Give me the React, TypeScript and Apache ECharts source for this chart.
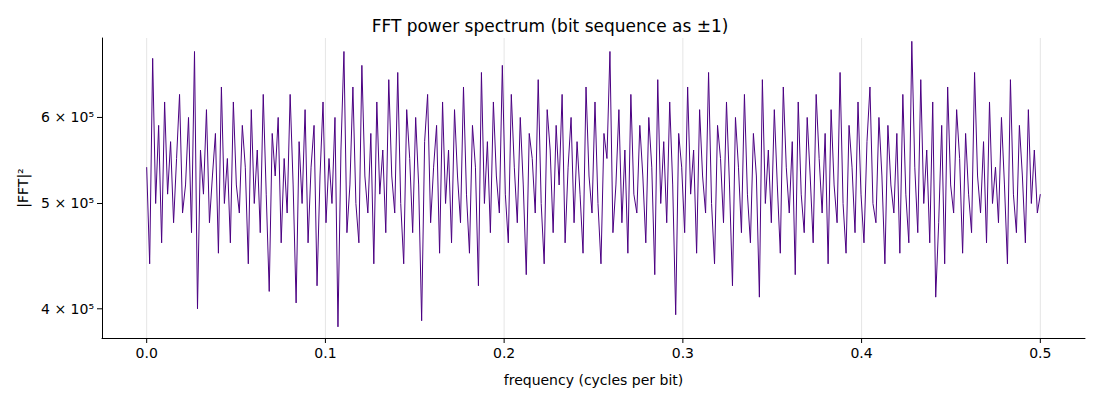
import React, { useEffect, useRef } from "react";
import * as echarts from "echarts";

// |FFT|^2 values in units of 1e5, evenly spaced from frequency 0 to 0.5
const powerE5: number[] = [
  5.4,4.4,6.8,5.0,5.9,4.6,6.2,5.1,5.7,4.8,5.5,6.3,4.9,5.2,6.0,4.7,6.9,4.0,5.6,5.1,
  6.1,4.8,5.3,5.8,4.5,6.4,5.0,5.5,4.6,6.2,5.2,4.9,5.9,5.4,4.4,6.1,5.0,5.6,4.7,6.3,
  5.1,4.15,5.8,5.3,6.0,4.6,5.5,4.9,6.3,5.2,4.05,5.7,5.0,6.1,4.6,5.4,5.9,4.2,5.3,6.2,
  4.8,5.5,5.0,6.0,3.85,5.6,6.9,4.7,5.2,6.4,5.0,4.6,6.7,5.3,4.9,5.8,4.4,6.2,5.1,5.6,
  4.7,6.5,5.3,4.9,6.6,5.0,4.4,6.1,5.5,4.7,6.0,5.2,3.9,5.7,6.3,4.8,5.4,5.9,4.5,6.2,
  5.0,5.6,4.6,6.1,5.3,4.8,6.4,5.1,4.5,5.9,5.4,4.2,6.6,5.0,5.7,4.7,6.2,5.3,4.9,6.7,
  5.1,4.6,6.3,5.4,4.8,6.0,5.2,4.3,5.8,5.5,4.9,6.5,5.0,4.4,6.1,5.6,4.7,5.9,5.2,6.3,
  4.6,5.4,6.0,4.8,5.7,5.1,4.5,6.4,5.3,4.9,6.2,5.0,4.4,5.8,5.5,6.9,4.7,5.2,6.1,4.8,
  5.6,4.5,6.3,5.1,4.9,5.9,5.3,4.6,6.0,5.4,4.3,6.5,5.0,5.7,4.8,6.2,5.2,3.95,5.8,5.4,
  4.7,6.4,5.1,5.6,4.5,6.1,5.3,4.9,6.6,5.0,4.4,5.9,5.5,4.8,6.2,5.2,4.2,6.0,5.4,4.7,
  6.3,5.1,4.6,5.8,5.3,4.1,6.5,5.0,5.6,4.8,6.1,5.2,4.5,6.4,5.4,4.9,5.7,4.3,6.2,5.1,
  4.7,6.0,5.3,4.6,6.3,5.5,4.9,5.8,4.4,6.1,5.2,4.8,6.6,5.0,4.5,5.9,5.4,4.7,6.2,5.1,
  4.6,5.7,6.4,5.0,4.8,6.0,5.3,4.4,5.9,5.2,4.9,5.8,4.5,6.3,5.1,4.6,7.05,5.4,4.7,6.5,
  5.0,5.6,4.6,6.2,4.1,4.8,5.9,4.4,6.4,5.2,4.9,6.1,5.5,4.5,5.8,5.1,4.7,6.6,5.3,4.9,
  5.7,4.6,6.2,5.0,5.4,4.8,6.0,5.2,4.4,6.5,5.1,4.7,5.9,5.3,4.6,6.1,5.0,5.6,4.9,5.1,
];
const fMax = 0.5;
const xTicks = [0, 0.1, 0.2, 0.3, 0.4, 0.5];
const yTicks = [4, 5, 6];
const yTickLabels = ["4 × 10⁵", "5 × 10⁵", "6 × 10⁵"];
const yMin = 3.76;
const yMax = 7.1;

export default function App() {
  const ref = useRef<HTMLDivElement>(null);
  useEffect(() => {
    const chart = echarts.init(ref.current!, null, { renderer: "svg" });
    const n = powerE5.length;
    const data = powerE5.map((v, i) => [(i * fMax) / (n - 1), Math.log(v)]);
    const font = "DejaVu Sans";
    chart.setOption({
      animation: false,
      title: {
        text: "FFT power spectrum (bit sequence as ±1)",
        left: "center", top: 4,
        textStyle: { fontFamily: font, fontSize: 17, fontWeight: "normal", color: "#000" },
      },
      grid: { left: 87, right: 7, top: 30, bottom: 50 },
      xAxis: {
        type: "value", min: -0.025, max: 0.525,
        axisLine: { onZero: false, lineStyle: { color: "#000" } },
        axisTick: { show: false }, axisLabel: { show: false }, splitLine: { show: false },
        name: "frequency (cycles per bit)", nameLocation: "middle", nameGap: 35,
        nameTextStyle: { fontFamily: font, fontSize: 14, color: "#000" },
      },
      yAxis: {
        type: "value", min: Math.log(yMin), max: Math.log(yMax),
        axisLine: { show: true, onZero: false, lineStyle: { color: "#000" } },
        axisTick: { show: false }, axisLabel: { show: false }, splitLine: { show: false },
        name: "|FFT|²", nameLocation: "middle", nameGap: 72,
        nameTextStyle: { fontFamily: font, fontSize: 14, color: "#000" },
      },
      series: [{
        type: "line", data, showSymbol: false,
        lineStyle: { color: "#4b0082", width: 1 },
      }],
    });
    const g: any[] = [];
    xTicks.forEach((t) => {
      const [px, py] = chart.convertToPixel({ gridIndex: 0 }, [t, Math.log(yMin)]);
      const [, top] = chart.convertToPixel({ gridIndex: 0 }, [t, Math.log(yMax)]);
      g.push({ type: "line", z: -1, shape: { x1: px, y1: top, x2: px, y2: py }, style: { stroke: "#e5e5e5", lineWidth: 1 } });
      g.push({ type: "line", shape: { x1: px, y1: py, x2: px, y2: py + 5 }, style: { stroke: "#000", lineWidth: 1 } });
      g.push({ type: "text", x: px, y: py + 8, style: { text: t === 0 ? "0.0" : String(t), fontFamily: font, fontSize: 14, fill: "#000", align: "center", verticalAlign: "top" } });
    });
    yTicks.forEach((t, i) => {
      const [px, py] = chart.convertToPixel({ gridIndex: 0 }, [-0.025, Math.log(t)]);
      g.push({ type: "line", shape: { x1: px - 5, y1: py, x2: px, y2: py }, style: { stroke: "#000", lineWidth: 1 } });
      g.push({ type: "text", x: px - 8, y: py, style: { text: yTickLabels[i], fontFamily: font, fontSize: 14, fill: "#000", align: "right", verticalAlign: "middle" } });
    });
    chart.setOption({ graphic: g });
    return () => chart.dispose();
  }, []);
  return <div ref={ref} style={{ width: 1084, height: 384 }} />;
}
